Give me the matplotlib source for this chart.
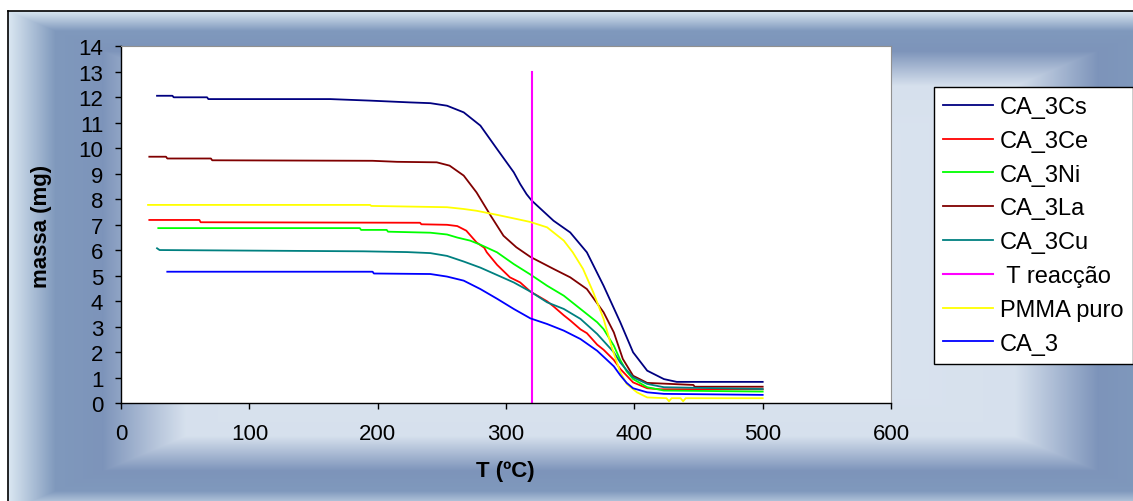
#!/usr/bin/env python3
"""
TGA curves: massa (mg) vs T (ºC) for the CA_3 series, PMMA puro and the reaction temperature.
Output: out.png (1133 x 502 px)
"""

import numpy as np
import matplotlib.pyplot as plt

# ========================================================================
# Data
# ========================================================================
t_cs = [28, 40, 41, 67, 68, 163, 194, 225, 241, 254, 267, 280, 293, 306, 311, 316, 320,
        337, 350, 363, 376, 389, 399, 410, 423, 433, 500]
m_cs = [12.06, 12.06, 12.0, 12.0, 11.93, 11.93, 11.87, 11.80, 11.77, 11.67, 11.41, 10.89,
        9.97, 9.06, 8.6, 8.2, 7.95, 7.16, 6.7, 5.92, 4.61, 3.18, 2.0, 1.28, 0.95, 0.84, 0.84]

t_ce = [22, 61, 62, 233, 234, 254, 262, 269, 277, 283, 285, 293, 303, 311, 319, 332, 337,
        345, 350, 358, 363, 371, 376, 384, 389, 399, 410, 420, 500]
m_ce = [7.19, 7.19, 7.1, 7.08, 7.02, 7.0, 6.95, 6.77, 6.31, 6.1, 5.92, 5.43, 4.94, 4.74,
        4.38, 4.0, 3.8, 3.45, 3.25, 2.9, 2.75, 2.3, 2.1, 1.7, 1.35, 0.82, 0.59, 0.55, 0.55]

t_ni = [29, 186, 187, 207, 208, 241, 254, 262, 267, 272, 280, 293, 306, 319, 332, 345, 358,
        371, 376, 384, 389, 394, 399, 410, 423, 500]
m_ni = [6.87, 6.87, 6.8, 6.8, 6.73, 6.69, 6.62, 6.5, 6.44, 6.38, 6.22, 5.92, 5.46, 5.05,
        4.61, 4.22, 3.70, 3.18, 2.91, 2.26, 1.7, 1.25, 0.95, 0.63, 0.5, 0.46]

t_la = [22, 35, 36, 70, 71, 196, 215, 246, 256, 267, 277, 288, 298, 308, 319, 337, 350,
        363, 376, 384, 391, 399, 410, 446, 447, 500]
m_la = [9.67, 9.67, 9.6, 9.6, 9.53, 9.51, 9.47, 9.45, 9.32, 8.93, 8.27, 7.36, 6.57, 6.12,
        5.74, 5.27, 4.94, 4.48, 3.57, 2.78, 1.74, 1.08, 0.80, 0.72, 0.65, 0.65]

t_cu = [28, 30, 189, 223, 241, 254, 267, 280, 293, 306, 319, 332, 345, 358, 371, 384, 389,
        394, 399, 410, 423, 500]
m_cu = [6.08, 6.01, 5.96, 5.93, 5.89, 5.78, 5.56, 5.32, 5.03, 4.74, 4.38, 3.96, 3.70, 3.31,
        2.72, 2.0, 1.6, 1.3, 1.02, 0.76, 0.63, 0.56]

t_reac = [320, 320]
m_reac = [0, 13]

t_pmma = [21, 194, 195, 254, 267, 277, 293, 308, 319, 332, 345, 352, 360, 368, 376, 382,
          389, 394, 402, 410, 425, 427, 429, 436, 438, 440, 500]
m_pmma = [7.78, 7.78, 7.74, 7.69, 7.62, 7.55, 7.39, 7.23, 7.11, 6.9, 6.38, 5.92, 5.27, 4.35,
          3.31, 2.26, 1.22, 0.76, 0.43, 0.23, 0.2, 0.08, 0.2, 0.2, 0.08, 0.2, 0.2]

t_ca3 = [36, 196, 197, 241, 254, 267, 280, 293, 306, 319, 332, 345, 358, 371, 384, 389, 394,
         399, 410, 423, 500]
m_ca3 = [5.16, 5.16, 5.09, 5.07, 4.97, 4.81, 4.48, 4.10, 3.70, 3.33, 3.11, 2.85, 2.52, 2.06,
         1.45, 1.1, 0.8, 0.59, 0.43, 0.37, 0.33]

series_labels = ['CA_3Cs', 'CA_3Ce', 'CA_3Ni', 'CA_3La', 'CA_3Cu', ' T reacção', 'PMMA puro', 'CA_3']
x_ticks = [0, 100, 200, 300, 400, 500, 600]
y_ticks = list(range(0, 15))

plt.rcParams.update({
    'font.family': ['Liberation Sans', 'DejaVu Sans'],
    'font.size': 16,
})


def frame_gradient(w, h):
    # Excel-like rectangular gradient: light edge, dark band, light centre
    xx, yy = np.meshgrid(np.arange(w) + 0.5, np.arange(h) + 0.5)
    u = np.abs(xx - 600.5) / 592.5
    v = np.abs(yy - 262.0) / 250.0
    t = np.maximum(u, v)
    stops = [0.0, 0.70, 0.84, 0.92, 1.0]
    cols = np.array([
        [0.88, 0.91, 0.95],
        [0.84, 0.88, 0.93],
        [0.49, 0.58, 0.73],
        [0.50, 0.60, 0.74],
        [0.86, 0.91, 0.95],
    ])
    img = np.zeros((h, w, 3))
    for c in range(3):
        img[..., c] = np.interp(t, stops, cols[:, c])
    outside = (xx < 8) | (yy < 12)
    img[outside] = 1.0
    return img


def main():
    W, H = 1133, 502
    fig = plt.figure(figsize=(W / 100, H / 100), dpi=100)

    # --------------------------------------------------------------------
    # Background frame
    # --------------------------------------------------------------------
    bg = fig.add_axes([0, 0, 1, 1], zorder=-5)
    bg.imshow(frame_gradient(W, H), extent=[0, W, H, 0], aspect='auto',
              interpolation='bilinear')
    bg.plot([8, 8], [12, H], color='black', lw=1.2)
    bg.plot([8, W], [12, 12], color='black', lw=1.2)
    bg.set_xlim(0, W)
    bg.set_ylim(H, 0)
    bg.axis('off')

    # --------------------------------------------------------------------
    # Plot area
    # --------------------------------------------------------------------
    ax = fig.add_axes([121.1 / W, 1 - 404.3 / H, (891 - 121.1) / W, (404.3 - 47.3) / H])
    ax.set_facecolor('white')

    data = [
        (t_cs, m_cs, '#000080', 1.3),
        (t_ce, m_ce, '#FF0000', 1.3),
        (t_ni, m_ni, '#00FF00', 1.3),
        (t_la, m_la, '#800000', 1.3),
        (t_cu, m_cu, '#008080', 1.3),
        (t_reac, m_reac, '#FF00FF', 1.5),
        (t_pmma, m_pmma, '#FFFF00', 1.3),
        (t_ca3, m_ca3, '#0000FF', 1.3),
    ]
    for (t, m, color, lw), label in zip(data, series_labels):
        ax.plot(t, m, color=color, lw=lw, label=label)

    ax.set_xlim(0, 600)
    ax.set_ylim(0, 14)
    ax.set_xticks(x_ticks)
    ax.set_yticks(y_ticks)
    ax.tick_params(axis='both', direction='out', length=4.3, width=1, color='black',
                   labelsize=16)
    ax.tick_params(axis='x', pad=10)
    ax.tick_params(axis='y', pad=8.5)
    for side in ['left', 'bottom']:
        ax.spines[side].set_color('black')
        ax.spines[side].set_linewidth(1.0)
    for side in ['top', 'right']:
        ax.spines[side].set_color('#909090')
        ax.spines[side].set_linewidth(0.8)

    fig.text(41 / W, 1 - 226 / H, 'massa (mg)', rotation=90, ha='center', va='center',
             fontsize=16, fontweight='bold')
    fig.text(505 / W, 1 - 472 / H, 'T (ºC)', ha='center', va='center',
             fontsize=16, fontweight='bold')

    # --------------------------------------------------------------------
    # Legend (runs off the right edge, as in the original)
    # --------------------------------------------------------------------
    leg = ax.legend(loc='upper left', bbox_to_anchor=(934 / W, 1 - 88 / H),
                    bbox_transform=fig.transFigure, borderaxespad=0, fontsize=17,
                    frameon=True, fancybox=False, framealpha=1, edgecolor='black',
                    borderpad=0.38, labelspacing=0.5, handlelength=2.12,
                    handletextpad=0.3)
    leg.get_frame().set_linewidth(1.0)

    fig.savefig('out.png', dpi=100, facecolor='white')
    plt.close(fig)


if __name__ == "__main__":
    main()
